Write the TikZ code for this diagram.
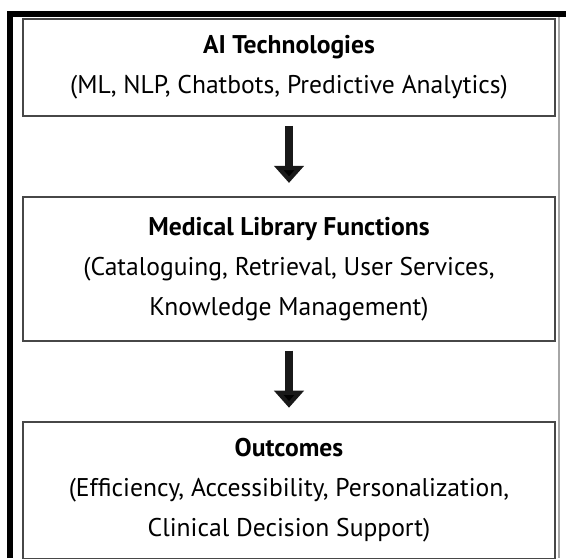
\documentclass[tikz,border=0pt]{standalone}
\usepackage{fontspec}
\setmainfont{PT Sans}
\usetikzlibrary{positioning,arrows.meta}

\begin{document}
\begin{tikzpicture}[x=0.5pt, y=-0.5pt, node distance=39.5pt,
	thick,main node/.style={rectangle,draw=black!72,line width=0.9pt,minimum width=266pt,
	align=center,font=\fontsize{12.8}{20}\selectfont}]
	\useasboundingbox (0,0) rectangle (566,558);
	
	% frame
	\draw[line width=3pt] (10,558) -- (10,14) -- (566,14);
	\draw[black!35, line width=0.6pt] (559,17) -- (559,558);
	
	\node[main node, minimum height=48.5pt] (1) at (289,67.5) {\textbf{AI Technologies}\\(ML, NLP, Chatbots, Predictive Analytics)};
	\node[main node, minimum height=72pt] (2) [below=of 1] {\textbf{Medical Library Functions}\\(Cataloguing, Retrieval, User Services,\\Knowledge Management)};
	\node[main node, minimum height=68.5pt] (3) [below=of 2] {\textbf{Outcomes}\\(Efficiency, Accessibility, Personalization,\\Clinical Decision Support)};
	
	\path[draw=black!90, line width=4pt, -{Triangle[width=14.5pt,length=8.5pt]},
	shorten <=4.5pt, shorten >=6.5pt]
	(1) edge (2)
	(2) edge (3);
\end{tikzpicture}
\end{document}
